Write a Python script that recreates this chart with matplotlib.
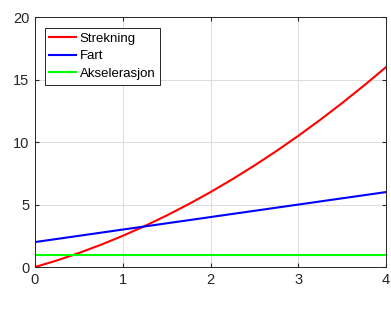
import matplotlib
matplotlib.use("Agg")
import matplotlib.pyplot as plt

plt.rcParams['font.family'] = ['Liberation Sans', 'DejaVu Sans']

# tid (s) og verdier lest av figuren
t = [0, 0.25, 0.5, 0.75, 1, 1.25, 1.5, 1.75, 2, 2.25, 2.5, 2.75, 3, 3.25, 3.5, 3.75, 4]
strekning = [0, 0.53, 1.125, 1.78, 2.5, 3.28, 4.125, 5.03, 6, 7.03, 8.125, 9.28,
             10.5, 11.78, 13.125, 14.53, 16]
fart = [2, 2.25, 2.5, 2.75, 3, 3.25, 3.5, 3.75, 4, 4.25, 4.5, 4.75, 5, 5.25, 5.5, 5.75, 6]
akselerasjon = [1] * len(t)

fig = plt.figure(figsize=(3.91, 3.21), dpi=100)
ax = fig.add_axes([0.0895, 0.168, 0.898, 0.779])

ax.plot(t, strekning, color='#ff0000', lw=1.5, label='Strekning')
ax.plot(t, fart, color='#0000ff', lw=1.5, label='Fart')
ax.plot(t, akselerasjon, color='#00ff00', lw=1.5, label='Akselerasjon')

ax.set_xlim(0, 4)
ax.set_ylim(0, 20)
ax.set_xticks([0, 1, 2, 3, 4])
ax.set_yticks([0, 5, 10, 15, 20])
ax.grid(True, color='#dcdcdc', lw=0.7)
ax.set_axisbelow(True)
ax.tick_params(direction='in', length=3, labelsize=10.5, colors='#262626',
               top=True, right=True, pad=4)
for sp in ax.spines.values():
    sp.set_color('#262626')
    sp.set_linewidth(0.7)

leg = ax.legend(loc='upper left', fontsize=9.5, fancybox=False, edgecolor='#262626',
                framealpha=1, borderpad=0.35, handlelength=2.0, handletextpad=0.3,
                labelspacing=0.4, bbox_to_anchor=(0.028, 0.956), borderaxespad=0)
leg.get_frame().set_linewidth(0.7)

fig.savefig('out.png', dpi=100)
